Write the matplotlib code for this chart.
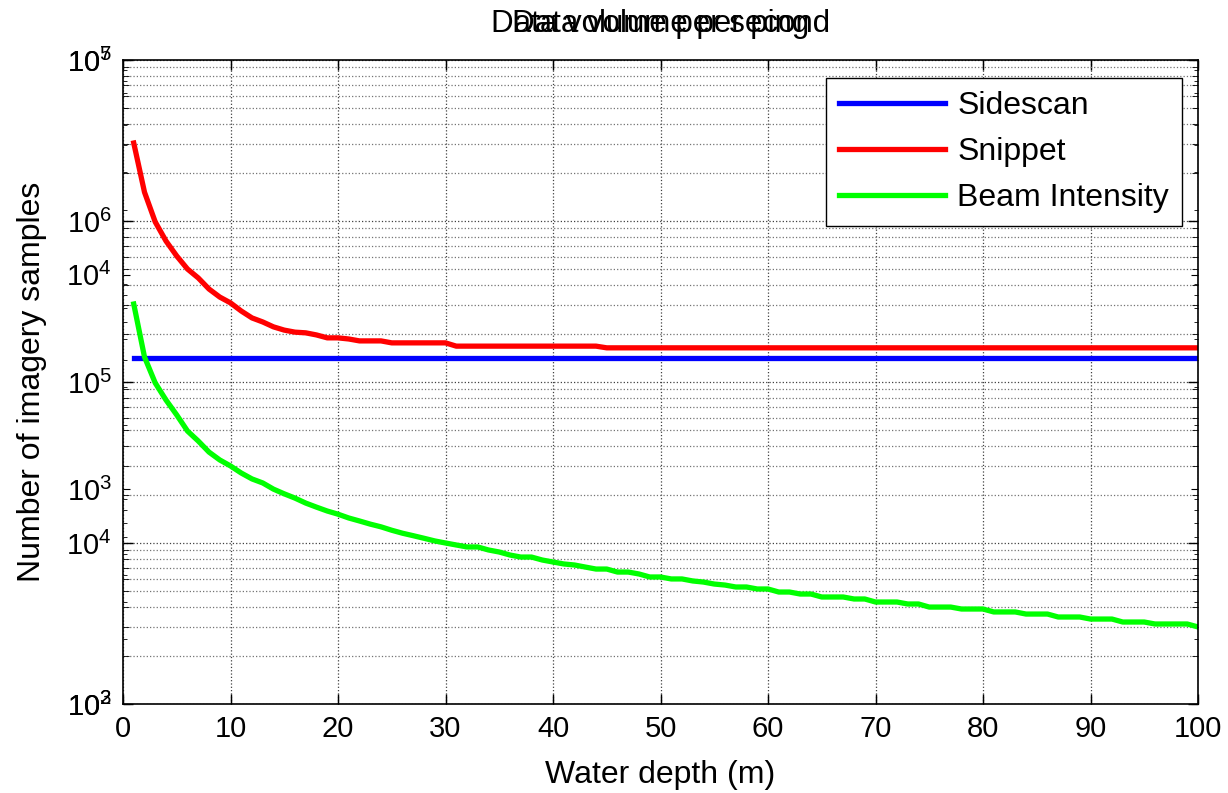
import matplotlib
matplotlib.use('Agg')
import matplotlib.pyplot as plt
import numpy as np

plt.rcParams['font.family'] = ['Liberation Sans', 'DejaVu Sans']
plt.rcParams['mathtext.default'] = 'regular'

# water depth (m)
depth = np.arange(1, 101)

sidescan_val = 1.41e5

snippet_head = [3.05e6, 1.51e6, 9.86e5, 7.51e5, 6.06e5, 5.03e5, 4.43e5, 3.78e5, 3.37e5, 3.10e5,
                2.76e5, 2.50e5, 2.36e5, 2.20e5, 2.10e5, 2.04e5, 2.02e5, 1.96e5, 1.88e5, 1.88e5,
                1.85e5, 1.80e5, 1.80e5, 1.80e5, 1.75e5, 1.75e5, 1.75e5, 1.75e5, 1.75e5, 1.75e5]
snippet_mid = [1.67e5] * 14      # 31..44 m
snippet_tail = [1.63e5] * 56     # 45..100 m
snippet = snippet_head + snippet_mid + snippet_tail

beam = [3.05e5, 1.43e5, 9.86e4, 7.73e4, 6.24e4, 4.96e4, 4.30e4, 3.67e4, 3.28e4, 3.01e4,
        2.72e4, 2.50e4, 2.36e4, 2.16e4, 2.02e4, 1.90e4, 1.77e4, 1.67e4, 1.58e4, 1.51e4,
        1.43e4, 1.37e4, 1.31e4, 1.26e4, 1.20e4, 1.15e4, 1.11e4, 1.07e4, 1.03e4, 1.00e4,
        9.72e3, 9.45e3, 9.45e3, 9.05e3, 8.79e3, 8.42e3, 8.18e3, 8.18e3, 7.84e3, 7.62e3,
        7.41e3, 7.30e3, 7.09e3, 6.89e3, 6.89e3, 6.60e3, 6.60e3, 6.42e3, 6.15e3, 6.15e3,
        5.98e3, 5.98e3, 5.81e3, 5.72e3, 5.56e3, 5.48e3, 5.33e3, 5.33e3, 5.18e3, 5.18e3,
        4.96e3, 4.96e3, 4.82e3, 4.82e3, 4.62e3, 4.62e3, 4.62e3, 4.49e3, 4.49e3, 4.30e3,
        4.30e3, 4.30e3, 4.18e3, 4.18e3, 4.00e3, 4.00e3, 4.00e3, 3.89e3, 3.89e3, 3.89e3,
        3.73e3, 3.73e3, 3.73e3, 3.62e3, 3.62e3, 3.62e3, 3.47e3, 3.47e3, 3.47e3, 3.37e3,
        3.37e3, 3.37e3, 3.23e3, 3.23e3, 3.23e3, 3.14e3, 3.14e3, 3.14e3, 3.14e3, 3.01e3]

fig = plt.figure(figsize=(12.28, 7.93), dpi=100)
rect = [123/1228, 89/793, 1075/1228, 644/793]

# second (per ping) axes drawn underneath, only its tick labels show
ax2 = fig.add_axes(rect)
ax2.set_yscale('log')
ax2.set_ylim(1e2, 1e5)
ax2.set_xlim(0, 100)
ax2.set_xticks(np.arange(0, 101, 10))
ax2.tick_params(axis='both', which='both', direction='in', right=True, top=True,
                labelsize=21, pad=8)
ax2.tick_params(which='major', length=5)
ax2.tick_params(which='minor', length=3)
ax2.set_xticklabels([])
ax2.set_title('Data volume per ping', fontsize=22.5, pad=20)
for s in ax2.spines.values():
    s.set_visible(False)
ax2.patch.set_visible(False)

ax = fig.add_axes(rect)
ax.patch.set_visible(False)
ax.plot(depth, [sidescan_val] * len(depth), color=(0, 0, 1), lw=3.8, label='Sidescan')
ax.plot(depth, snippet, color=(1, 0, 0), lw=3.8, label='Snippet')
ax.plot(depth, beam, color=(0, 1, 0), lw=3.8, label='Beam Intensity')
ax.set_yscale('log')
ax.set_ylim(1e3, 1e7)
ax.set_xlim(0, 100)
ax.set_xticks(np.arange(0, 101, 10))
ax.tick_params(axis='both', which='both', direction='in', right=True, top=True,
               labelsize=21, pad=8)
ax.tick_params(which='major', length=7, width=1)
ax.tick_params(which='minor', length=4)
ax.grid(True, which='major', linestyle=':', color='0.25', lw=0.9)
ax.grid(True, which='minor', axis='y', linestyle=':', color='0.45', lw=0.9)
for s in ax.spines.values():
    s.set_linewidth(1.2)
ax.set_title('Data volume per second', fontsize=22.5, pad=20)
ax.set_xlabel('Water depth (m)', fontsize=23, labelpad=12)
ax.set_ylabel('Number of imagery samples', fontsize=23, labelpad=14)

leg = ax.legend(loc='upper right', bbox_to_anchor=(0.985, 0.972), borderaxespad=0,
                fontsize=23, fancybox=False, edgecolor='black', framealpha=1,
                handlelength=3.3, handletextpad=0.4, labelspacing=0.5)
leg.get_frame().set_linewidth(1.0)

fig.savefig('out.png', dpi=100)
